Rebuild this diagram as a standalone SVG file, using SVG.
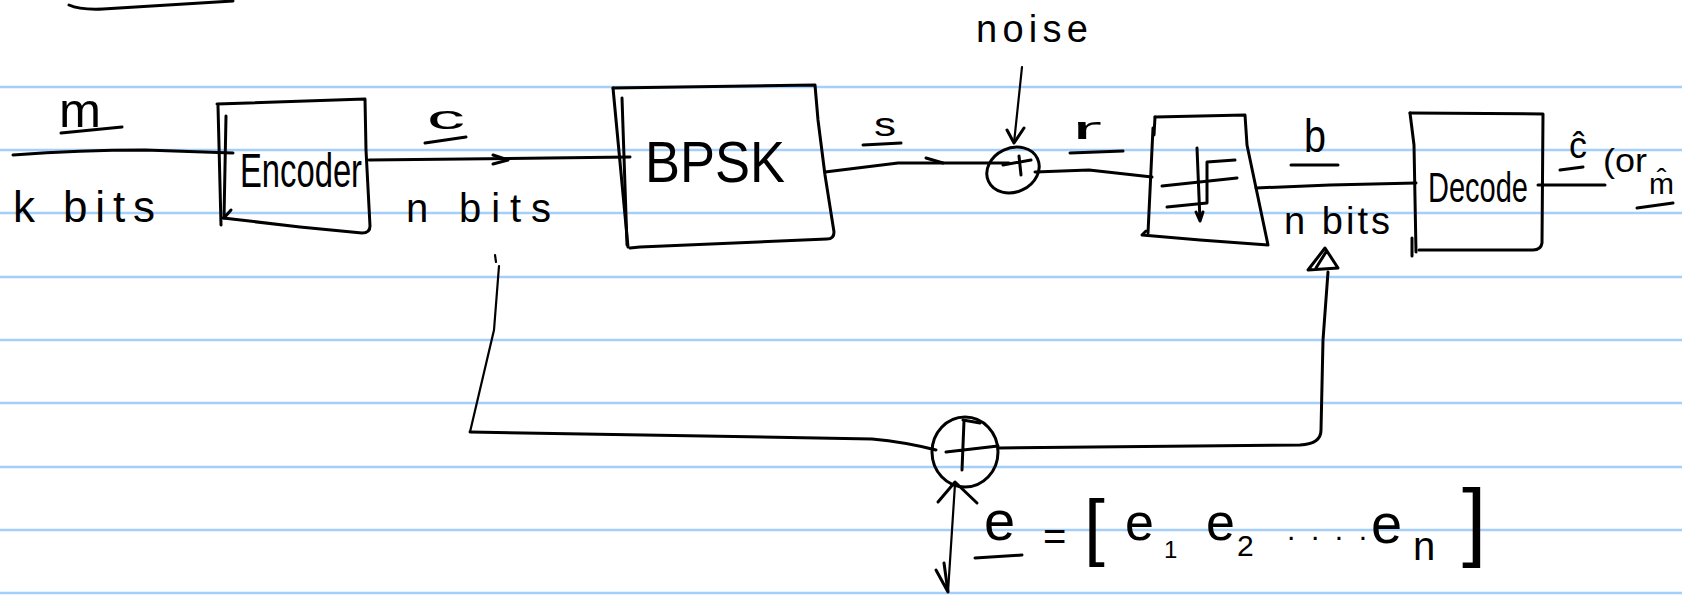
<svg xmlns="http://www.w3.org/2000/svg" width="1682" height="595" viewBox="0 0 1682 595">
<style>
.rule{stroke:#a3cffa;stroke-width:2.5}
.ink{fill:none;stroke:#000;stroke-width:3;stroke-linecap:round;stroke-linejoin:round}
.thin{fill:none;stroke:#000;stroke-width:2.2;stroke-linecap:round;stroke-linejoin:round}
text{font-family:"Liberation Sans",Arial,sans-serif;fill:#000}
</style>
<rect width="1682" height="595" fill="#fff"/>
<g id="paper-lines">
<line class="rule" x1="0" y1="87" x2="1682" y2="87"/>
<line class="rule" x1="0" y1="150" x2="1682" y2="150"/>
<line class="rule" x1="0" y1="213" x2="1682" y2="213"/>
<line class="rule" x1="0" y1="277" x2="1682" y2="277"/>
<line class="rule" x1="0" y1="340" x2="1682" y2="340"/>
<line class="rule" x1="0" y1="403" x2="1682" y2="403"/>
<line class="rule" x1="0" y1="467" x2="1682" y2="467"/>
<line class="rule" x1="0" y1="530" x2="1682" y2="530"/>
<line class="rule" x1="0" y1="593" x2="1682" y2="593"/>
</g>
<path class="ink" d="M69,5 Q80,10 103,9 L233,1"/>

<g id="encoder">
<path class="ink" d="M217,104 L365,99 L366,150 L370,226 Q370,233 362,233 L300,227 L223,218"/>
<path class="ink" d="M218,106 L221,225"/>
<path class="ink" d="M226,116 L224,218 L231,210"/>
<text x="240" y="187" font-size="48" textLength="122" lengthAdjust="spacingAndGlyphs">Encoder</text>
</g>

<g id="bpsk">
<path class="ink" d="M613,88 L815,85 L818,120 L825,175 L834,232 Q834,239 827,239 L640,247 L630,248"/>
<path class="ink" d="M613,88 L628,247"/>
<path class="ink" d="M622,98 L627,245"/>
<text x="645" y="182" font-size="58" textLength="140" lengthAdjust="spacingAndGlyphs">BPSK</text>
</g>

<g id="noise-sum">
<ellipse class="ink" cx="1013" cy="170" rx="27" ry="22" transform="rotate(-25 1013 170)"/>
<path class="ink" d="M1003,165 L1031,160 M1019,156 L1021,175"/>
</g>

<g id="quantizer">
<path class="ink" d="M1155,117 L1245,115 L1247,145 L1268,245 L1200,240 L1142,235 L1146,231"/>
<path class="ink" d="M1155,117 L1154,135 M1153,128 L1148,233"/>
<path class="ink" d="M1162,186 L1237,178"/>
<path class="ink" d="M1167,207 L1207,203 L1207,162 L1235,160"/>
<path class="ink" d="M1197,148 L1200,221 M1196,212 L1200,221 L1203,212"/>
</g>

<g id="decoder">
<path class="ink" d="M1410,113 L1543,114 L1542,243 Q1541,250 1533,250 L1419,250"/>
<path class="ink" d="M1410,113 L1414,145 L1416,252"/>
<path class="ink" d="M1412,238 L1412,256"/>
<text x="1428" y="202" font-size="42" textLength="100" lengthAdjust="spacingAndGlyphs">Decode</text>
</g>

<g id="error-sum">
<ellipse class="ink" cx="965" cy="452" rx="33" ry="35"/>
<path class="ink" d="M946,452 L998,446 M964,421 L962,470 M963,420 L980,423"/>
</g>

<g id="connectors">
<path class="ink" d="M13,155 Q80,150 145,150 L233,153"/>
<path class="ink" d="M369,160 L630,157"/>
<path class="ink" d="M493,155 L508,160 L493,164"/>
<path class="ink" d="M825,172 L898,163 L1009,163"/>
<path class="ink" d="M926,158 L943,163"/>
<path class="thin" d="M1022,67 L1014,143"/>
<path class="ink" d="M1007,130 L1014,143 L1024,128"/>
<path class="ink" d="M1035,172 L1089,170 L1152,177"/>
<path class="ink" d="M1256,188 L1330,185 L1416,183"/>
<path class="ink" d="M1538,185 L1605,185"/>
<path class="thin" d="M495,255 L496,262"/>
<path class="thin" d="M499,266 L494,330 L470,432"/>
<path class="ink" d="M470,432 L872,439 Q905,442 936,450"/>
<path class="ink" d="M999,448 L1300,445 Q1321,444 1321,430 L1323,340 L1328,272"/>
<path class="ink" d="M1308,270 L1325,248 L1338,268 Z M1316,268 L1326,252"/>
<path class="thin" d="M955,484 L948,592"/>
<path class="ink" d="M938,502 L955,482 L977,503"/>
<path class="ink" d="M936,570 L948,592 M944,563 L948,592"/>
</g>

<g id="labels">
<text x="59" y="127" font-size="48" textLength="42" lengthAdjust="spacingAndGlyphs">m</text>
<path class="ink" d="M61,133 L122,127"/>
<text x="13" y="222" font-size="44" textLength="142" lengthAdjust="spacing">k bits</text>
<text x="427" y="129" font-size="34" textLength="38" lengthAdjust="spacingAndGlyphs">c</text>
<path class="ink" d="M425,143 L466,137"/>
<text x="406" y="222" font-size="40" textLength="145" lengthAdjust="spacing">n bits</text>
<text x="874" y="136" font-size="34" textLength="22" lengthAdjust="spacingAndGlyphs">s</text>
<path class="ink" d="M863,145 L901,143"/>
<text x="976" y="42" font-size="38" textLength="112" lengthAdjust="spacing">noise</text>
<text x="1072" y="139" font-size="32" textLength="30" lengthAdjust="spacingAndGlyphs">r</text>
<path class="ink" d="M1070,153 L1123,151"/>
<text x="1304" y="152" font-size="46" textLength="22" lengthAdjust="spacingAndGlyphs">b</text>
<path class="ink" d="M1291,165 L1338,165"/>
<text x="1284" y="234" font-size="38" textLength="106" lengthAdjust="spacing">n bits</text>
<text x="1569" y="158" font-size="36">ĉ</text>
<path class="ink" d="M1560,170 L1583,167"/>
<text x="1603" y="172" font-size="34" textLength="44" lengthAdjust="spacingAndGlyphs">(or</text>
<text x="1649" y="194" font-size="30">m̂</text>
<path class="ink" d="M1637,208 L1673,203"/>
<text font-size="56"><tspan x="984" y="540">e</tspan><tspan x="1043" y="550" font-size="40">=</tspan><tspan x="1084" y="552" font-size="75">[</tspan><tspan x="1125" y="540" font-size="52">e</tspan><tspan x="1164" y="558" font-size="24">1</tspan><tspan x="1206" y="540" font-size="52">e</tspan><tspan x="1237" y="556" font-size="30">2</tspan><tspan x="1287" y="540" font-size="30" textLength="80" lengthAdjust="spacing">....</tspan><tspan x="1371" y="543">e</tspan><tspan x="1413" y="560" font-size="40">n</tspan><tspan x="1462" y="550" font-size="88">]</tspan></text>
<path class="ink" d="M975,558 L1022,555"/>
</g>
</svg>
